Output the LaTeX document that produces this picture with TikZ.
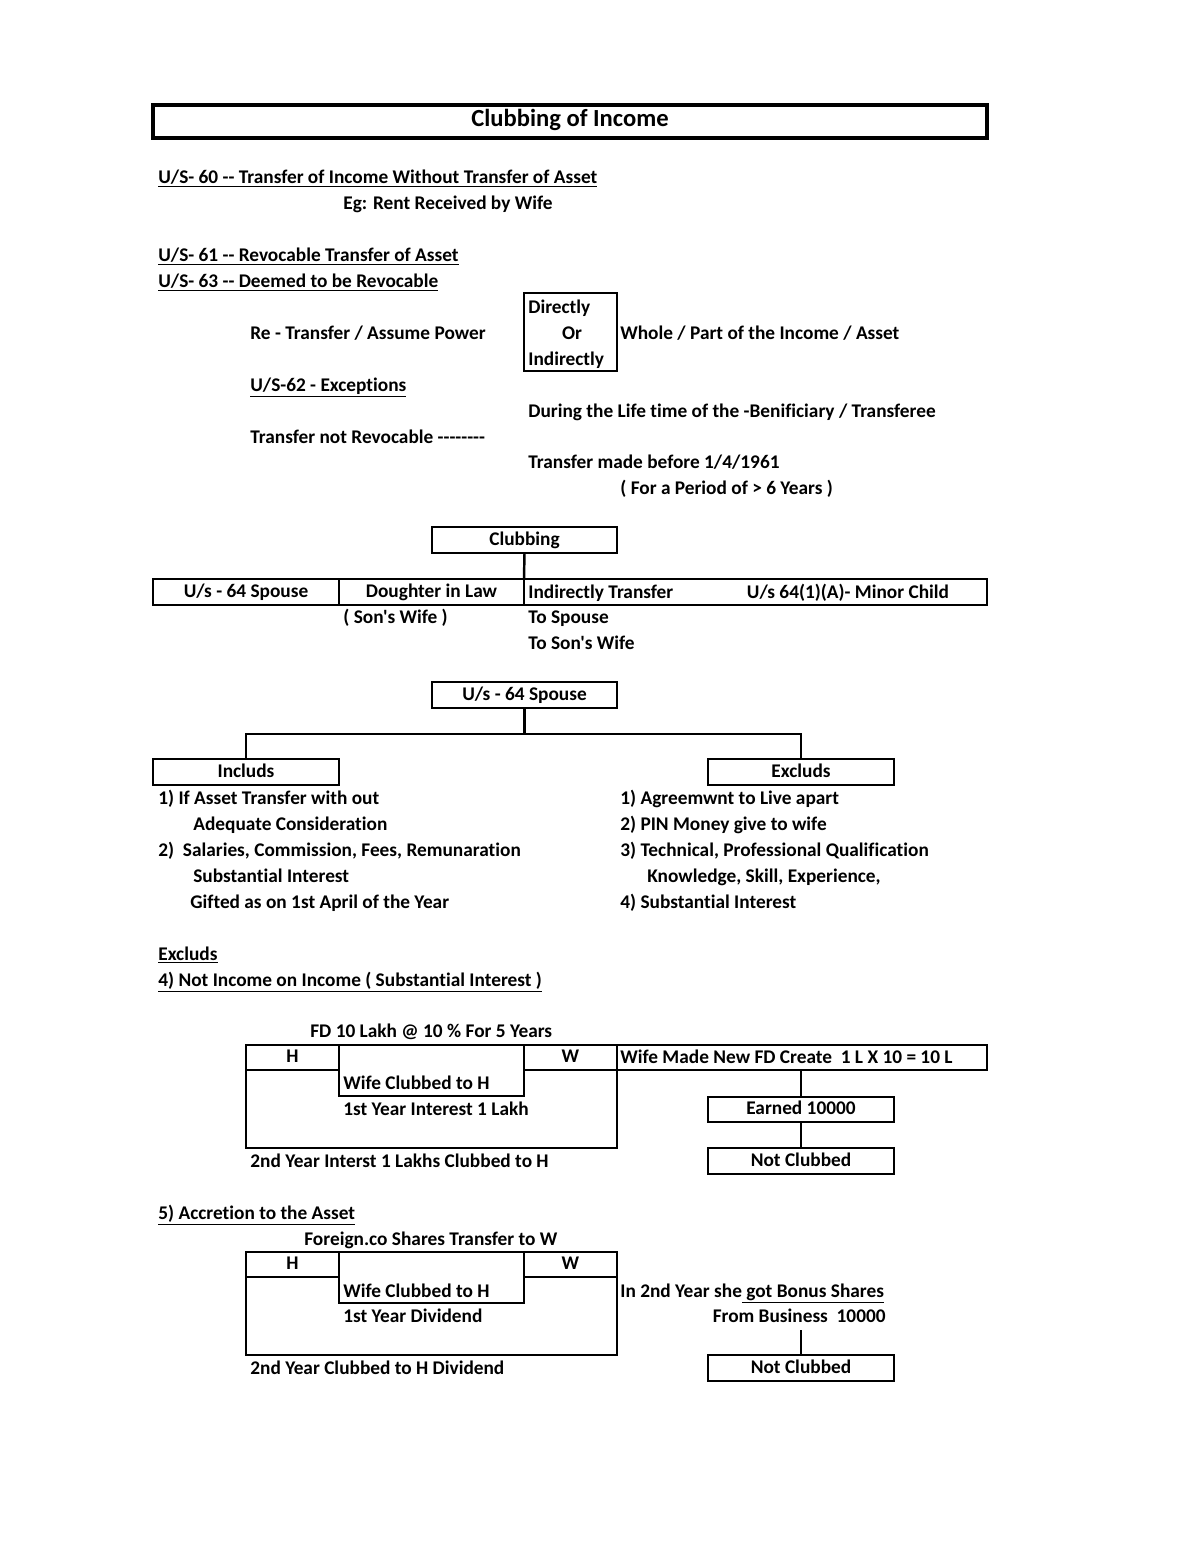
\documentclass[tikz,border=0pt]{standalone}
\usepackage{fontspec}
\setmainfont{Carlito}[Ligatures={TeXOff,NoCommon}]

\begin{document}
\begin{tikzpicture}[x=0.02cm, y=-0.02cm,
    every node/.style={font=\bfseries\fontsize{11}{13}\selectfont},
    lbl/.style={anchor=base west, inner sep=0pt},
    cell/.style 2 args={draw, line width=1.4pt, inner sep=0pt, outer sep=0pt,
      minimum width=#1*0.02cm, minimum height=#2*0.02cm,
      text height=1.6ex, text depth=0.3ex},
    link/.style={line width=1.4pt}]
    \useasboundingbox (0,0) rectangle (1200,1553);

    % heading and sections 60 to 63
    \node[cell={834}{33}, line width=2pt] (title) at (570,121.5)
      {\fontsize{14}{16}\selectfont Clubbing of Income};
    \node[lbl] (us60) at (158,183) {\underline{U/S- 60 -- Transfer of Income Without Transfer of Asset}};
    \node[lbl] (eg) at (343,209) {Eg: Rent Received by Wife};
    \node[lbl] (us61) at (158,261) {\underline{U/S- 61 -- Revocable Transfer of Asset}};
    \node[lbl] (us63) at (158,287) {\underline{U/S- 63 -- Deemed to be Revocable}};
    \node[lbl] (retr) at (250,339) {Re - Transfer / Assume Power};
    \node[cell={93}{78}] (direct) at (570.5,332) {};
    \node[lbl] (dir1) at (528,313) {Directly};
    \node[anchor=base, inner sep=0pt] (dir2) at (572,339) {Or};
    \node[lbl] (dir3) at (528,365) {Indirectly};
    \node[lbl] (whole) at (620,339) {Whole / Part of the Income / Asset};
    \node[lbl] (us62) at (250,391) {\underline{U/S-62 - Exceptions}};
    \node[lbl] (during) at (528,417) {During the Life time of the -Benificiary / Transferee};
    \node[lbl] (notrev) at (250,443) {Transfer not Revocable --------};
    \node[lbl] (before) at (528,468) {Transfer made before 1/4/1961};
    \node[lbl] (period) at (620,494) {( For a Period of > 6 Years )};

    % clubbing
    \node[cell={185}{26}] (club) at (524.5,540) {Clubbing};
    \node[cell={186}{26}] (spouse) at (246,592) {U/s - 64 Spouse};
    \node[cell={185}{26}] (dil) at (431.5,592) {Doughter in Law};
    \node[cell={463}{26}] (rest) at (755.5,592) {};
    \node[lbl] (indir) at (528,598) {Indirectly Transfer};
    \node[anchor=base, inner sep=0pt] (minor) at (848,598) {U/s 64(1)(A)- Minor Child};
    \node[lbl] (sonwife) at (343,623) {( Son's Wife )};
    \node[lbl] (tosp) at (528,623) {To Spouse};
    \node[lbl] (toson) at (528,649) {To Son's Wife};
    \draw[link] (club.south) -- (rest.north west);

    % section 64
    \node[cell={185}{26}] (sp64) at (524.5,695) {U/s - 64 Spouse};
    \node[cell={186}{26}] (incl) at (246,772) {Includs};
    \node[cell={186}{26}] (excl) at (801,772) {Excluds};
    \coordinate (fork) at (524.5,734);
    \draw[link] (sp64.south) -- (fork);
    \draw[link] (incl.north) |- (fork) -| (excl.north);
    \foreach \x/\y/\t [count=\i] in {158/804/{1) If Asset Transfer with out},
        193/830/{Adequate Consideration},
        158/856/{2)\ \ Salaries, Commission, Fees, Remunaration},
        193/882/{Substantial Interest},
        190/908/{Gifted as on 1st April of the Year}}{%
      \node[lbl] (inc\i) at (\x,\y) {\t};
    }
    \foreach \x/\y/\t [count=\i] in {620/804/{1) Agreemwnt to Live apart},
        620/830/{2) PIN Money give to wife},
        620/856/{3) Technical, Professional Qualification},
        647/882/{Knowledge, Skill, Experience,},
        620/908/{4) Substantial Interest}}{%
      \node[lbl] (exc\i) at (\x,\y) {\t};
    }
    \node[lbl] (exhead) at (158,960) {\underline{Excluds}};
    \node[lbl] (incinc) at (158,986) {\underline{4) Not Income on Income ( Substantial Interest )}};

    % fixed deposit
    \node[lbl] (fd) at (310,1037) {FD 10 Lakh @ 10 \% For 5 Years};
    \node[cell={371}{103}] (out1) at (431.5,1096.5) {};
    \node[cell={93}{25}] (h1) at (292.5,1057.5) {H};
    \node[cell={185}{51}] (in1) at (431.5,1070.5) {};
    \node[cell={93}{25}] (w1) at (570.5,1057.5) {W};
    \node[cell={370}{25}] (newfd) at (802,1057.5) {};
    \node[lbl] (newfdtxt) at (620,1063) {Wife Made New FD Create\ \ 1 L X 10 = 10 L};
    \node[lbl] (wc1) at (343,1089) {Wife Clubbed to H};
    \node[lbl] (int1) at (343,1115) {1st Year Interest 1 Lakh};
    \node[lbl] (int2) at (250,1167) {2nd Year Interst 1 Lakhs Clubbed to H};
    \node[cell={186}{25}] (earned) at (801,1109.5) {Earned 10000};
    \node[cell={186}{26}] (notcl1) at (801,1161) {Not Clubbed};
    \draw[link] (earned.north |- newfd.south) -- (earned.north);
    \draw[link] (earned.south) -- (notcl1.north);

    % accretion
    \node[lbl] (accr) at (158,1219) {\underline{5) Accretion to the Asset}};
    \node[lbl] (foreign) at (304,1245) {Foreign.co Shares Transfer to W};
    \node[cell={371}{103}] (out2) at (431.5,1303.5) {};
    \node[cell={93}{25}] (h2) at (292.5,1264.5) {H};
    \node[cell={185}{51}] (in2) at (431.5,1277.5) {};
    \node[cell={93}{25}] (w2) at (570.5,1264.5) {W};
    \node[lbl] (wc2) at (343,1297) {Wife Clubbed to H};
    \node[lbl] (div1) at (343,1322) {1st Year Dividend};
    \node[lbl] (div2) at (250,1374) {2nd Year Clubbed to H Dividend};
    \node[lbl] (bonus) at (620,1297) {In 2nd Year she\underline{ got Bonus Shares}};
    \node[anchor=base east, inner sep=0pt] (biz) at (886,1322) {From Business\ \ 10000};
    \node[cell={186}{26}] (notcl2) at (801,1368) {Not Clubbed};
    \coordinate (bizend) at (801,1330);
    \draw[link] (bizend) -- (notcl2.north);

\end{tikzpicture}
\end{document}
